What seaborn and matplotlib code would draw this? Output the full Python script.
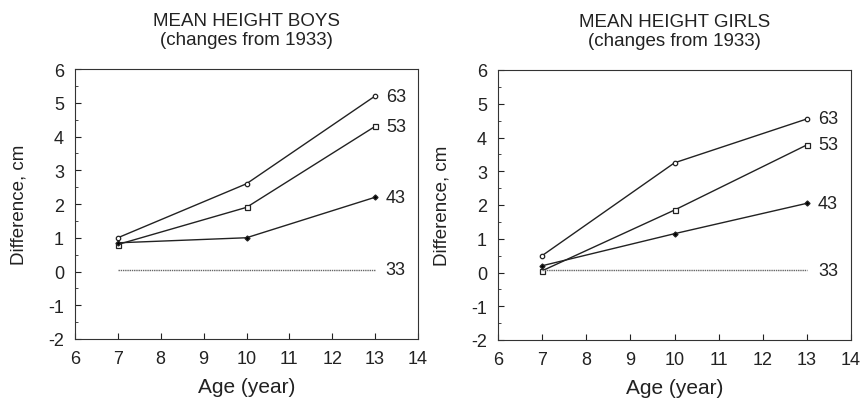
import matplotlib
matplotlib.use("Agg")
import matplotlib.pyplot as plt
import seaborn as sns
import pandas as pd
from matplotlib.ticker import MultipleLocator

ages = [7, 10, 13]
cohort_labels = ["63", "53", "43", "33"]

boys_63 = [1.0, 2.6, 5.2]
boys_53 = [0.8, 1.9, 4.3]
boys_43 = [0.85, 1.0, 2.2]
boys_33 = [0.05, 0.05, 0.05]

girls_63 = [0.5, 3.25, 4.55]
girls_53 = [0.05, 1.85, 3.78]
girls_43 = [0.2, 1.15, 2.05]
girls_33 = [0.07, 0.07, 0.07]

titles = ["MEAN HEIGHT BOYS\n(changes from 1933)", "MEAN HEIGHT GIRLS\n(changes from 1933)"]

sns.set_theme(style="ticks")
plt.rcParams['font.family'] = ['Liberation Sans', 'DejaVu Sans']
plt.rcParams['axes.unicode_minus'] = False

def make_df(s63, s53, s43, s33):
    rows = []
    for lab, vals in zip(cohort_labels, [s63, s53, s43, s33]):
        for a, v in zip(ages, vals):
            rows.append({"age": a, "diff": v, "cohort": lab})
    return pd.DataFrame(rows)

dfs = [make_df(boys_63, boys_53, boys_43, boys_33),
       make_df(girls_63, girls_53, girls_43, girls_33)]

fig = plt.figure(figsize=(8.64, 4.02), dpi=100)
ax_pos = [[75/864, 1-340/402, 343/864, 270/402],
          [498/864, 1-341/402, 353/864, 270/402]]

markers = {"63": "o", "53": "s", "43": "D", "33": ""}
mfc = {"63": "white", "53": "white", "43": "black", "33": "black"}
msize = {"63": 3.2, "53": 3.6, "43": 2.6, "33": 0}

for i, df in enumerate(dfs):
    ax = fig.add_axes(ax_pos[i])
    for lab in cohort_labels:
        sub = df[df.cohort == lab]
        if lab == "33":
            sns.lineplot(data=sub, x="age", y="diff", ax=ax, color="#666666",
                         linestyle=(0, (1, 0.6)), linewidth=1.0)
        else:
            sns.lineplot(data=sub, x="age", y="diff", ax=ax, color="#222222",
                         linewidth=1.0, marker=markers[lab], markersize=msize[lab],
                         markerfacecolor=mfc[lab], markeredgecolor="#222222",
                         markeredgewidth=0.9)
        ax.text(sub["age"].iloc[-1] + 0.25, sub["diff"].iloc[-1], lab,
                va="center", ha="left", fontsize=13, color="#222222")
    ax.set_xlim(6, 14)
    ax.set_ylim(-2, 6)
    ax.xaxis.set_major_locator(MultipleLocator(1))
    ax.yaxis.set_major_locator(MultipleLocator(1))
    ax.yaxis.set_minor_locator(MultipleLocator(0.5))
    ax.tick_params(direction="in", length=4, width=0.8, labelsize=13, colors="#222222", pad=8)
    ax.tick_params(which="minor", direction="in", length=2, width=0.6)
    for s in ax.spines.values():
        s.set_linewidth(0.8)
        s.set_color("#333333")
    ax.set_xlabel("Age (year)", fontsize=15, color="#222222", labelpad=7)
    ax.set_ylabel("Difference, cm", fontsize=13.5, color="#222222", labelpad=15)
    ax.set_title(titles[i], fontsize=13.5, color="#222222", pad=18, linespacing=1.15)

fig.savefig("out.png", dpi=100, facecolor="white")
